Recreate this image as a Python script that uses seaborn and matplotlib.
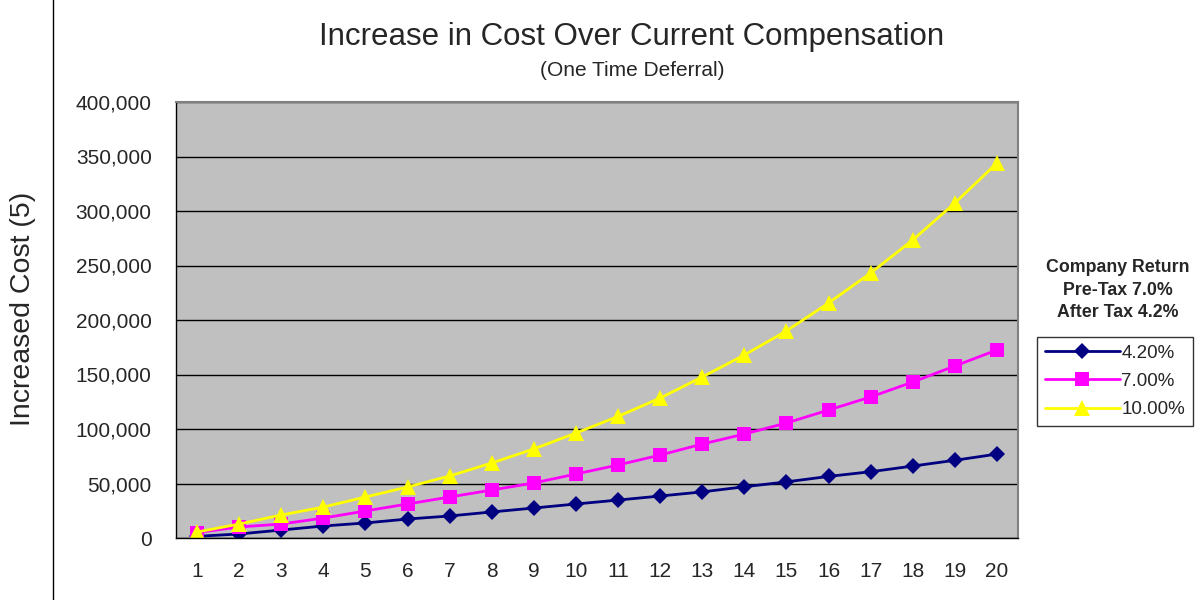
import matplotlib.pyplot as plt
import matplotlib.patches as mpatches
import seaborn as sns
import numpy as np

years = list(range(1, 21))
cost_420 = [1500, 3700, 7300, 11000, 13800, 17400, 20200, 23900, 27500, 31200,
            34800, 38500, 42300, 47000, 51500, 56500, 60800, 66000, 71300, 77000]
cost_700 = [5000, 10100, 12800, 18300, 24800, 31200, 37600, 44000, 50500, 58700,
            67000, 76100, 86200, 95400, 105500, 117400, 129400, 143100, 157800, 172500]
cost_1000 = [5500, 12800, 21100, 28400, 37600, 46800, 56900, 68800, 81700, 96300,
             111500, 128400, 147700, 167900, 190000, 215600, 243100, 273400, 307300, 344000]
series_names = ["4.20%", "7.00%", "10.00%"]
y_ticks = list(range(0, 400001, 50000))

sns.set_style("white")
plt.rcParams['font.family'] = ['Liberation Sans', 'DejaVu Sans']

fig = plt.figure(figsize=(12.02, 6.0), dpi=100)
ax = fig.add_axes([176 / 1202, 1 - 538 / 600, 842 / 1202, 436 / 600])

# chart-area border (Excel style)
fig.patches.append(mpatches.Rectangle((53 / 1202, -0.01), 1.0, 1.02, transform=fig.transFigure,
                                      fill=False, edgecolor='black', linewidth=1.0))

# (series, colour, marker, marker size)
styles = [
    (cost_420, "#000080", "D", 8.5),
    (cost_700, "#FF00FF", "s", 10),
    (cost_1000, "#FFFF00", "^", 12),
]
for (vals, color, mk, ms), name in zip(styles, series_names):
    sns.lineplot(x=years, y=vals, color=color, marker=mk, markersize=ms,
                 markeredgewidth=0, linewidth=2, label=name, ax=ax)

ax.set_facecolor('#C0C0C0')
ax.set_xlim(0.5, 20.5)
ax.set_ylim(0, 400000)
ax.set_yticks(y_ticks)
ax.set_yticklabels([f"{v:,}" for v in y_ticks], fontsize=15)
ax.set_xticks(years)
ax.set_xticklabels([str(y) for y in years], fontsize=15)
ax.set_xticks(np.arange(0.5, 21, 1), minor=True)
ax.tick_params(axis='x', which='major', length=0, pad=17)
ax.tick_params(axis='x', which='minor', length=5, width=1, color='black', direction='out')
ax.tick_params(axis='y', length=4.5, width=1, color='black', direction='out', pad=13)
ax.yaxis.grid(True, color='black', linewidth=1)
ax.set_axisbelow(True)
for side in ['top', 'right']:
    ax.spines[side].set_color('#808080')
    ax.spines[side].set_linewidth(1.5)
for side in ['left', 'bottom']:
    ax.spines[side].set_color('black')
    ax.spines[side].set_linewidth(1)

ax.set_xlabel("")
ax.set_ylabel("Increased Cost (5)", fontsize=20.5, va='center')
ax.yaxis.set_label_coords((23 - 176) / 842, (538 - 309) / 436)

fig.text(632 / 1202, 1 - 37 / 600, "Increase in Cost Over Current Compensation",
         ha='center', va='center', fontsize=22.5)
fig.text(632 / 1202, 1 - 70 / 600, "(One Time Deferral)", ha='center', va='center', fontsize=15)

fig.text(1118 / 1202, 1 - 290 / 600, "Company Return\nPre-Tax 7.0%\nAfter Tax 4.2%",
         ha='center', va='center', fontsize=12.8, fontweight='bold', linespacing=1.45)

leg = ax.legend(title=None, loc='upper left', bbox_to_anchor=(1037 / 1202, 1 - 337 / 600),
                bbox_transform=fig.transFigure, frameon=True, fancybox=False,
                edgecolor='black', fontsize=13.5, handlelength=4.0, borderpad=0.4,
                labelspacing=0.6, handletextpad=0.1, borderaxespad=0)
leg.get_frame().set_linewidth(1)

plt.savefig("out.png", dpi=100)
plt.close()
